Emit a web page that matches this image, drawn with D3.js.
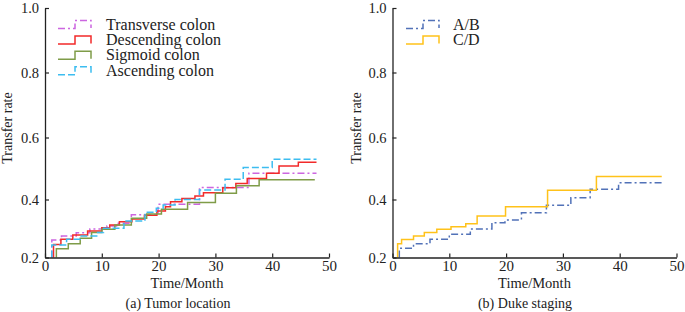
<!DOCTYPE html>
<html>
<head>
<meta charset="utf-8">
<script src="https://cdn.jsdelivr.net/npm/d3@7"></script>
<style>
  body { margin: 0; background: #fff; }
  svg { display: block; font-family: "Liberation Serif", "Times New Roman", serif; }
</style>
</head>
<body>
<svg id="chart" width="685" height="312"></svg>
<script>
// step curves: month where each curve steps up, and the rate it steps to
const transTimes = [1.2, 2.9, 5.5, 7.9, 10.9, 12.6, 15.2, 19.9, 27.2, 35.9];
const transRates = [0.26, 0.274, 0.285, 0.298, 0.309, 0.318, 0.347, 0.384, 0.439, 0.485];
const descTimes = [1.5, 2.8, 4.9, 7.5, 10, 11.4, 13.1, 15.3, 17.5, 19.7, 21.2, 22.1, 24.1, 26.4, 27.9, 31.3, 33.6, 35.6, 39, 41.2, 44.6];
const descRates = [0.245, 0.263, 0.278, 0.291, 0.303, 0.312, 0.323, 0.333, 0.346, 0.36, 0.375, 0.392, 0.403, 0.411, 0.422, 0.438, 0.452, 0.468, 0.485, 0.508, 0.52];
const sigTimes = [2.0, 4.1, 6.2, 8.2, 10, 12.3, 15.2, 17.9, 20.5, 25.1, 30, 33.7, 37.7];
const sigRates = [0.23, 0.247, 0.266, 0.286, 0.297, 0.312, 0.335, 0.35, 0.366, 0.39, 0.42, 0.444, 0.464];
const ascTimes = [1.2, 3.8, 6.2, 9.1, 10.3, 13.9, 17.6, 19.6, 20.8, 22.9, 27.2, 31.7, 34.9, 40.0];
const ascRates = [0.243, 0.263, 0.274, 0.286, 0.301, 0.326, 0.356, 0.37, 0.381, 0.4, 0.431, 0.465, 0.503, 0.53];
const abTimes = [1.2, 3.7, 6.6, 10, 13.7, 17.5, 19.8, 22.7, 27.1, 31.4, 34.8, 39.8];
const abRates = [0.232, 0.247, 0.263, 0.28, 0.298, 0.32, 0.329, 0.354, 0.38, 0.406, 0.433, 0.454];
const cdTimes = [0.9, 1.6, 3.7, 5.6, 7.8, 10.3, 12.9, 14.9, 19.9, 27.3, 35.9];
const cdRates = [0.247, 0.262, 0.274, 0.286, 0.297, 0.306, 0.316, 0.343, 0.375, 0.43, 0.474];

const leftNames = ['Transverse colon', 'Descending colon', 'Sigmoid colon', 'Ascending colon'];
const rightNames = ['A/B', 'C/D'];
const xTicks = [0, 10, 20, 30, 40, 50];
const yTicks = [0.2, 0.4, 0.6, 0.8, 1.0];

const svg = d3.select('#chart');

// turn step times + rates into points, starting on the 0.2 baseline
function stepPoints(times, rates, end) {
    const pts = [[times[0], 0.2]];
    times.forEach((t, i) => pts.push([t, rates[i]]));
    pts.push([end, rates[rates.length - 1]]);
    return pts;
}

function drawPanel(cfg) {
    const x = d3.scaleLinear().domain([0, 50]).range([cfg.x0, cfg.x1]);
    // y spacing in the source image is slightly uneven, so use a piecewise scale
    const y = d3.scaleLinear().domain(yTicks).range([257.5, 199.5, 137.5, 72.5, 8]);

    const g = svg.append('g');

    // curves
    const line = d3.line()
        .x(d => x(d[0]))
        .y(d => y(d[1]))
        .curve(d3.curveStepAfter);

    cfg.series.forEach(s => {
        g.append('path')
            .attr('d', line(stepPoints(s.times, s.rates, s.end)))
            .attr('fill', 'none')
            .attr('stroke', s.color)
            .attr('stroke-width', 1.5)
            .attr('stroke-dasharray', s.dash || null);
    });

    // axes with inward ticks
    const xAxis = g.append('g')
        .attr('transform', 'translate(0,257.5)')
        .call(d3.axisBottom(x).tickValues(xTicks).tickSize(-4).tickSizeOuter(0).tickPadding(3));
    const yAxis = g.append('g')
        .attr('transform', `translate(${cfg.x0},0)`)
        .call(d3.axisLeft(y).tickValues(yTicks).tickFormat(d3.format('.1f')).tickSize(-4).tickSizeOuter(0).tickPadding(6));

    [xAxis, yAxis].forEach(a => {
        a.select('.domain').attr('stroke', '#222').attr('stroke-width', 1.3);
        a.selectAll('.tick line').attr('stroke', '#222').attr('stroke-width', 1.2);
        a.selectAll('.tick text')
            .attr('fill', '#222')
            .style('font-family', '"Liberation Serif", serif');
    });
    xAxis.selectAll('.tick text').style('font-size', '15px');
    yAxis.selectAll('.tick text').style('font-size', '14.5px');

    // axis titles
    g.append('text')
        .attr('x', (cfg.x0 + cfg.x1) / 2)
        .attr('y', 288)
        .attr('text-anchor', 'middle')
        .attr('fill', '#222')
        .style('font-size', '14.5px')
        .text('Time/Month');
    g.append('text')
        .attr('transform', `translate(${cfg.yLabelX},128) rotate(-90)`)
        .attr('text-anchor', 'middle')
        .attr('fill', '#222')
        .style('font-size', '14px')
        .text('Transfer rate');
    g.append('text')
        .attr('x', cfg.captionX)
        .attr('y', 308)
        .attr('text-anchor', 'middle')
        .attr('fill', '#222')
        .style('font-size', '14px')
        .text(cfg.caption);

    // legend with small step glyphs
    cfg.series.forEach((s, i) => {
        const ly = 24 + i * 15.4;
        const lx = cfg.legendX;
        g.append('path')
            .attr('d', `M${lx},${ly + 4.5}H${lx + 17}V${ly - 3.5}H${lx + 33}V${ly + 4}`)
            .attr('fill', 'none')
            .attr('stroke', s.color)
            .attr('stroke-width', 1.5)
            .attr('stroke-dasharray', s.dash || null);
        g.append('text')
            .attr('x', cfg.legendTextX)
            .attr('y', ly)
            .attr('dy', '0.35em')
            .attr('fill', '#222')
            .style('font-size', '16px')
            .text(s.name);
    });
}

drawPanel({
    x0: 45, x1: 329, yLabelX: 12, captionX: 178,
    caption: '(a) Tumor location',
    legendX: 58, legendTextX: 106,
    series: [
        { name: leftNames[0], times: transTimes, rates: transRates, end: 47.8, color: '#cc66e0', dash: '7,3,2,3' },
        { name: leftNames[1], times: descTimes, rates: descRates, end: 47.8, color: '#f22a2a' },
        { name: leftNames[2], times: sigTimes, rates: sigRates, end: 47.5, color: '#7f9c48' },
        { name: leftNames[3], times: ascTimes, rates: ascRates, end: 47.8, color: '#3dbdf0', dash: '7,3' }
    ]
});

drawPanel({
    x0: 392.5, x1: 676.5, yLabelX: 361, captionX: 525,
    caption: '(b) Duke staging',
    legendX: 406, legendTextX: 453,
    series: [
        { name: rightNames[0], times: abTimes, rates: abRates, end: 47.4, color: '#5272b8', dash: '7,3,2,3' },
        { name: rightNames[1], times: cdTimes, rates: cdRates, end: 47.4, color: '#ffc21a' }
    ]
});
</script>
</body>
</html>
